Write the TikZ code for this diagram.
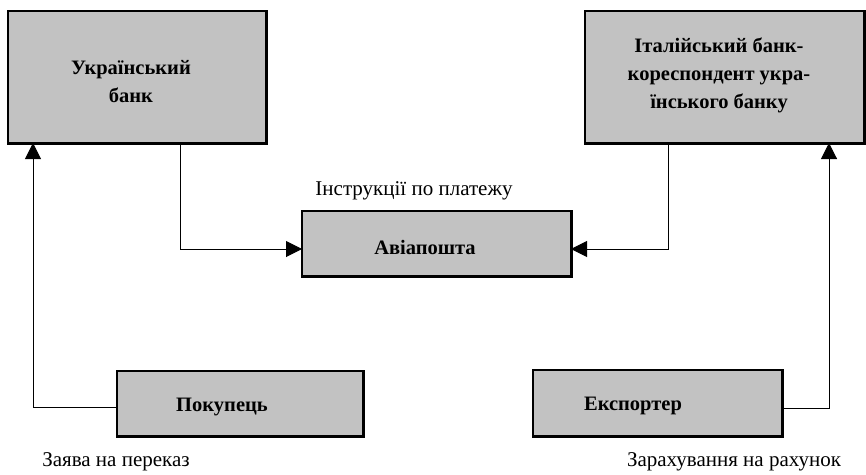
\documentclass[tikz,border=0pt]{standalone}
\usepackage{fontspec}
\setmainfont{Liberation Serif}
\usetikzlibrary{arrows.meta,calc}

% a shaded box with heavier bottom and right edges
\newcommand{\shbox}[2]{%
  \draw[box] #1 rectangle #2;
  \draw[edge] let \p1=#1, \p2=#2 in (\x2,\y1) -- (\x2,\y2) -- (\x1,\y2);
}

\begin{document}
\begin{tikzpicture}[x=1pt,y=-1pt,
  box/.style={draw=black,line width=1.6pt,fill=black!24},
  edge/.style={line width=3pt,line cap=rect},
  boxtext/.style={font=\fontsize{20.5}{28}\selectfont\bfseries,align=center,inner sep=0pt},
  note/.style={font=\fontsize{21}{24}\selectfont,inner sep=0pt},
  link/.style={draw=black,line width=1pt},
  arr/.style={link,-{Triangle[width=16pt,length=16pt]}}]
\useasboundingbox (0,0) rectangle (866,474);

\shbox{(8,11)}{(266,143)}
\node[boxtext] (ub) at (131,82) {Український\\банк};

\shbox{(585,11)}{(864,143)}
\node[boxtext] (ib) at (719,75) {Італійський банк-\\кореспондент укра-\\їнського банку};

\shbox{(302,211)}{(571,276)}
\node[boxtext] (av) at (425,247) {Авіапошта};

\shbox{(117,371)}{(363,436)}
\node[boxtext] (buyer) at (222,407) {Покупець};

\shbox{(533,370)}{(782,436)}
\node[boxtext] (exp) at (633,406) {Експортер};

% connector anchors on box edges
\coordinate (ubB1) at (180,143);
\coordinate (ubB2) at (33,143);
\coordinate (ibB1) at (668,143);
\coordinate (ibB2) at (829,143);
\coordinate (avL) at (302,249);
\coordinate (avR) at (571,249);
\coordinate (buyerL) at (117,407);
\coordinate (expR) at (782,408);

\draw[arr] (ubB1) |- (avL);
\draw[arr] (ibB1) |- (avR);
\draw[arr] (buyerL) -| (ubB2);
\draw[arr] (expR) -| (ibB2);

% labels
\node[note] (l1) at (414,191) {Інструкції по платежу};
\node[note] (l2) at (116,462) {Заява на переказ};
\node[note] (l3) at (734,462) {Зарахування на рахунок};
\end{tikzpicture}
\end{document}
